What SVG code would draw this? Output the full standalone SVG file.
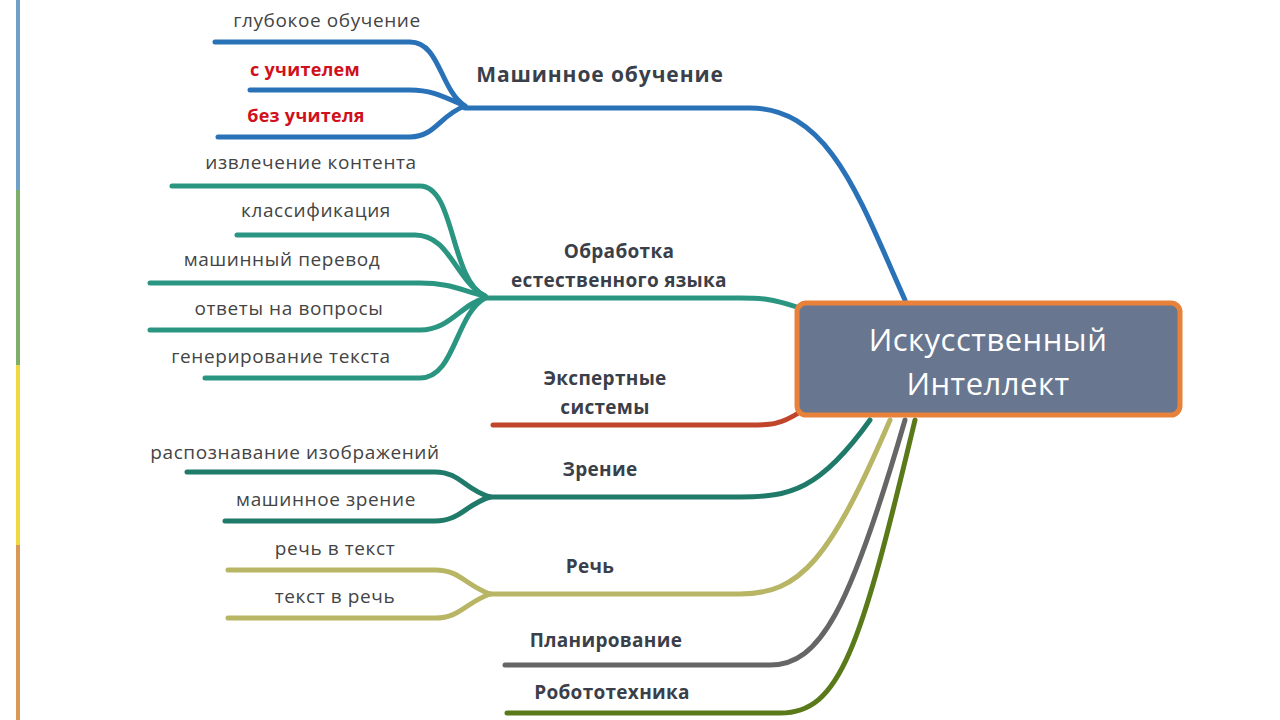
<svg xmlns="http://www.w3.org/2000/svg" width="1280" height="720" viewBox="0 0 1280 720">
<style>
text{font-family:"Open Sans","DejaVu Sans",sans-serif;text-anchor:middle}
.m{font-size:19px;font-weight:bold;fill:#3a3f4a;letter-spacing:0.3px}
.s{font-size:19px;fill:#444;letter-spacing:0.6px}
.r{font-size:18px;font-weight:bold;fill:#d0101a;letter-spacing:0.3px}
path{fill:none;stroke-width:5;stroke-linecap:round}
</style>
<rect width="1280" height="720" fill="#fff"/>
<g id="sidebar">
<rect x="16" y="0" width="4" height="190" fill="#6fa0c8"/>
<rect x="16" y="190" width="4" height="175" fill="#7cb06a"/>
<rect x="16" y="365" width="4" height="180" fill="#f0d840"/>
<rect x="16" y="545" width="4" height="175" fill="#d89858"/>
</g>
<g id="connectors">
<g stroke="#2a72b8"><path d="M905,300 C860,200 830,108 750,108 L465,108"/>
<path d="M465,106 C440,90 440,42 410,42 L215,42"/>
<path d="M465,106 C440,95 430,90 410,90 L250,90"/>
<path d="M465,106 C440,115 435,137 410,137 L218,137"/></g>
<g stroke="#2a9580"><path d="M800,308 C770,298 760,298 740,298 L485,298"/>
<path d="M485,296 C450,280 455,186 420,186 L172,186"/>
<path d="M485,296 C455,280 450,235 415,235 L237,235"/>
<path d="M485,296 C460,290 450,283 420,283 L150,283"/>
<path d="M485,298 C460,305 450,330 420,330 L150,330"/>
<path d="M485,298 C455,315 455,378 420,378 L205,378"/></g>
<path stroke="#c0452a" d="M800,412 C780,425 770,425 750,425 L493,425"/>
<g stroke="#1f7a6a"><path d="M870,420 C820,490 790,497 740,497 L490,497"/>
<path d="M490,497 C465,490 460,472 435,472 L187,472"/>
<path d="M490,497 C465,505 460,521 435,521 L225,521"/></g>
<g stroke="#b8b565"><path d="M890,420 C830,560 800,594 740,594 L490,594"/>
<path d="M490,594 C465,585 460,570 435,570 L228,570"/>
<path d="M490,594 C465,603 460,618 435,618 L228,618"/></g>
<path stroke="#666" d="M905,420 C850,610 820,665 770,665 L505,665"/>
<path stroke="#5a7a1a" d="M915,420 C860,650 840,713 780,713 L507,713"/>
</g>
<g id="center">
<rect x="797" y="303" width="383" height="112" rx="9" fill="#68778f" stroke="#e8823a" stroke-width="5"/>
<text x="988" y="351" font-size="31" fill="#fff" letter-spacing="0.5">Искусственный</text>
<text x="988" y="395" font-size="31" fill="#fff" letter-spacing="0.5">Интеллект</text>
</g>
<g id="labels">
<text class="m" x="600" y="82" style="font-size:21px;letter-spacing:0.9px">Машинное обучение</text>
<text class="m" x="619" y="258">Обработка</text>
<text class="m" x="619" y="287">естественного языка</text>
<text class="m" x="605" y="385">Экспертные</text>
<text class="m" x="605" y="414">системы</text>
<text class="m" x="600" y="476">Зрение</text>
<text class="m" x="590" y="573">Речь</text>
<text class="m" x="606" y="647">Планирование</text>
<text class="m" x="612" y="699">Робототехника</text>
<text class="s" x="327" y="27">глубокое обучение</text>
<text class="r" x="305" y="76">с учителем</text>
<text class="r" x="306" y="122">без учителя</text>
<text class="s" x="311" y="169">извлечение контента</text>
<text class="s" x="316" y="217">классификация</text>
<text class="s" x="282" y="266">машинный перевод</text>
<text class="s" x="289" y="315">ответы на вопросы</text>
<text class="s" x="281" y="363">генерирование текста</text>
<text class="s" x="295" y="459">распознавание изображений</text>
<text class="s" x="326" y="506">машинное зрение</text>
<text class="s" x="335" y="555">речь в текст</text>
<text class="s" x="335" y="603">текст в речь</text>
</g>
</svg>
